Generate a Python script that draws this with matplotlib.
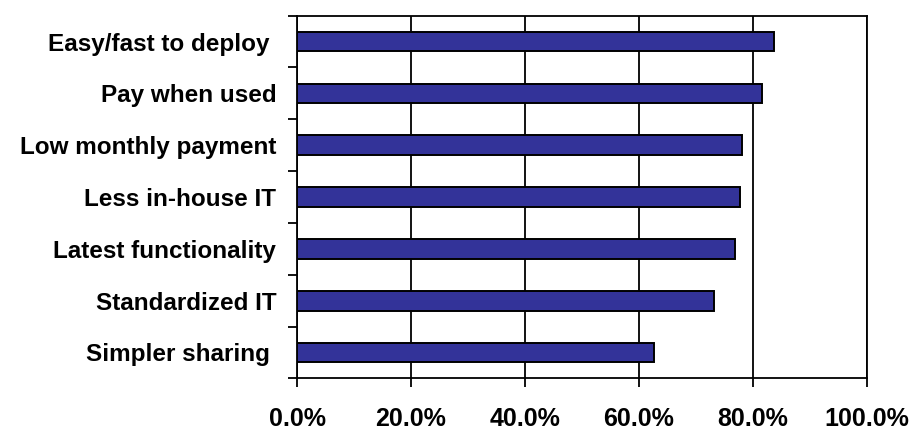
import matplotlib.pyplot as plt
from matplotlib.ticker import FixedLocator, PercentFormatter

# reasons, listed top to bottom
reasons = ["Easy/fast to deploy ", "Pay when used", "Low monthly payment",
           "Less in-house IT", "Latest functionality", "Standardized IT",
           "Simpler sharing "]
shares = [83.7, 81.5, 78.1, 77.7, 76.9, 73.2, 62.7]
x_ticks = [0, 20, 40, 60, 80, 100]

plt.rcParams["font.family"] = ["Liberation Sans", "DejaVu Sans"]
plt.rcParams["font.weight"] = "bold"

fig = plt.figure(figsize=(9.1, 4.3), dpi=100)
ax = fig.add_axes([0.3264, 0.12, 0.6263, 0.8437])

pos = list(range(len(reasons)))[::-1]
ax.barh(pos, shares, height=0.38, color="#333399", edgecolor="black",
        linewidth=1.4, zorder=3)

ax.set_xlim(0, 100)
ax.set_ylim(-0.5, len(reasons) - 0.5)
ax.set_xticks(x_ticks)
ax.xaxis.set_major_formatter(PercentFormatter(decimals=1))
ax.grid(axis="x", color="black", linewidth=1.3, zorder=1)

ax.set_yticks(pos)
ax.set_yticklabels(reasons)
ax.yaxis.set_minor_locator(FixedLocator([p - 0.5 for p in range(len(reasons) + 1)]))
ax.tick_params(axis="y", which="major", length=0, pad=15, labelsize=17.5)
ax.tick_params(axis="y", which="minor", length=6.5, width=1.3)
ax.tick_params(axis="x", length=6.5, width=1.3, pad=14, labelsize=18)

for side in ["top", "right", "left", "bottom"]:
    ax.spines[side].set_linewidth(1.3)

fig.savefig("out.png", dpi=100)
